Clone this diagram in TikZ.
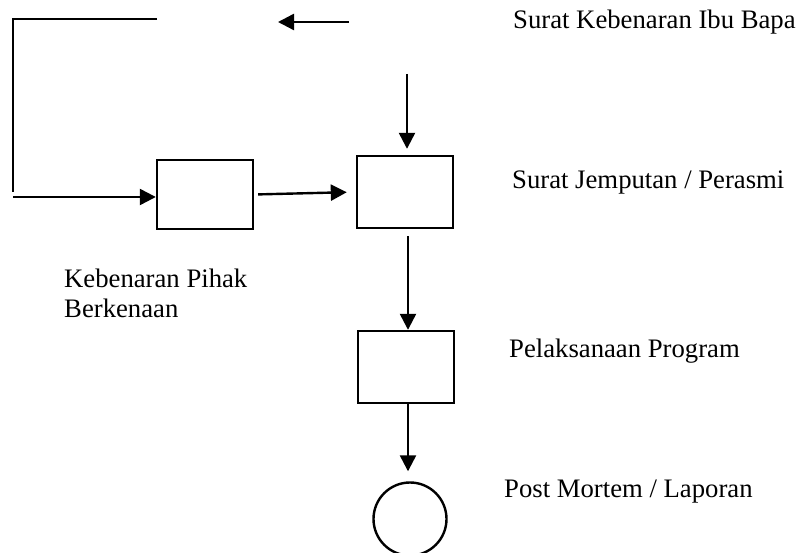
\documentclass[tikz,border=0pt]{standalone}
\usepackage{fontspec}
\setmainfont{Liberation Serif}
\usetikzlibrary{arrows.meta,calc}
\begin{document}
\begin{tikzpicture}[x=1pt,y=-1pt,
  line width=2.4pt,
  flow/.style={-{Triangle[length=16pt,width=16pt]}},
  procbox/.style={draw,rectangle,minimum width=96pt,minimum height=72pt,inner sep=0pt},
  endcircle/.style={draw,circle,minimum size=73pt,inner sep=0pt},
  label/.style={font=\fontsize{26.7}{30}\selectfont,anchor=base west,inner sep=0pt,align=left}]
\useasboundingbox (0,0) rectangle (798,553);

% process boxes and end terminal
\node[procbox,minimum height=69pt] (pihak) at (205,194.5) {};
\node[procbox] (jemputan) at (405,192) {};
\node[procbox] (program) at (406,367) {};
\node[endcircle] (laporan) at (410,519) {};

% free line ends
\coordinate (bracketTop) at (157,19);
\coordinate (bracketCorner) at (13,19);
\coordinate (bracketLow) at (13,192);
\coordinate (feedStart) at (13,197);
\coordinate (backTail) at (349,22);
\coordinate (backTip) at (278,22);
\coordinate (downStart) at (407,74);

% labels
\node[label] (tIbuBapa) at (512,29) {Surat Kebenaran Ibu Bapa};
\node[label] (tJemputan) at (511,189) {Surat Jemputan / Perasmi};
\node[label] (tProgram) at (508,357) {Pelaksanaan Program};
\node[label] (tLaporan) at (503,497) {Post Mortem / Laporan};
\node[label] (tPihak) at (63,318) {Kebenaran Pihak\\Berkenaan};

% connectors
\draw (bracketTop) -- (bracketCorner) -- (bracketLow);
\draw[flow] (feedStart) -- (feedStart -| pihak.west);
\draw[flow] (backTail) -- (backTip);
\draw[flow,shorten <=4pt,shorten >=9pt] (pihak.east) -- (jemputan.west);
\draw[flow,shorten >=6pt] (downStart) -- (downStart |- jemputan.north);
\draw[flow,shorten <=7pt] ([xshift=3pt]jemputan.south) -- ([xshift=2pt]program.north);
\draw[flow,shorten >=10pt] ([xshift=2pt]program.south) -- ([xshift=-2pt]laporan.north);
\end{tikzpicture}
\end{document}
